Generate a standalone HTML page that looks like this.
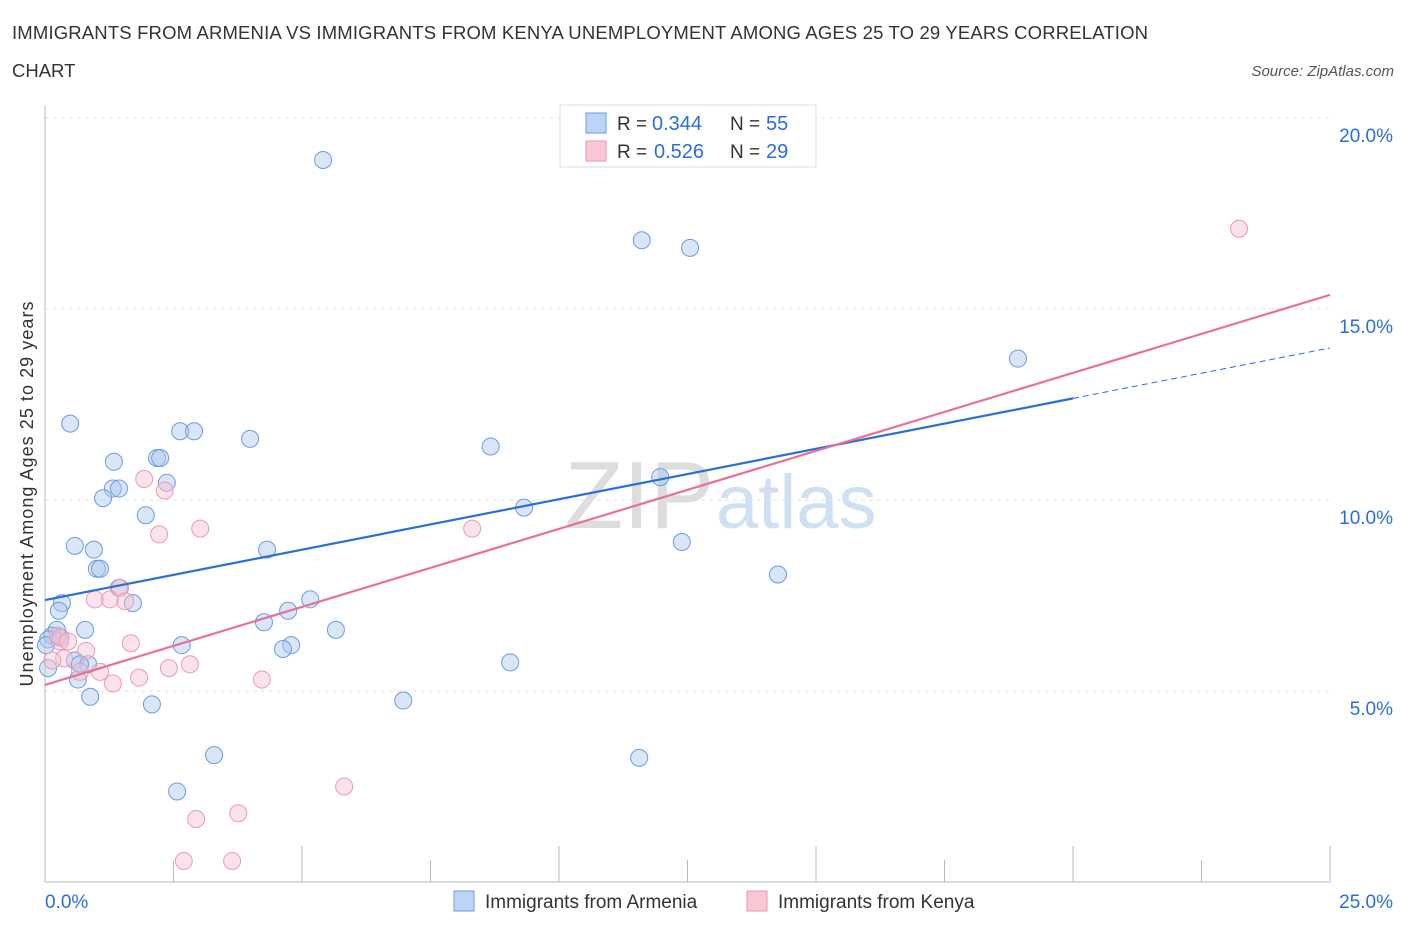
<!DOCTYPE html>
<html><head><meta charset="utf-8"><style>
body{margin:0;background:#fff;font-family:"Liberation Sans",sans-serif;}
svg text{font-family:"Liberation Sans",sans-serif;}
</style></head><body>
<svg id="chart" width="1406" height="930">
<text x="12" y="39" font-size="18.5" fill="#333" textLength="1136">IMMIGRANTS FROM ARMENIA VS IMMIGRANTS FROM KENYA UNEMPLOYMENT AMONG AGES 25 TO 29 YEARS CORRELATION</text>
<text x="12" y="77" font-size="18.5" fill="#333">CHART</text>
<text x="1394" y="76" font-size="15" fill="#555" font-style="italic" text-anchor="end">Source: ZipAtlas.com</text>
<text x="714" y="528" font-size="96" fill="#ddd" font-family="Liberation Serif" text-anchor="end">ZIP</text>
<text x="716" y="528" font-size="76" fill="#cfe0f3">atlas</text>
<g id="grid"></g>
<g id="axes"></g>
<g id="pts"></g>
<g id="lines"></g>
<text transform="translate(33,494) rotate(-90)" font-size="18" fill="#333" text-anchor="middle" textLength="385">Unemployment Among Ages 25 to 29 years</text>
<g>
<rect x="560" y="105" width="256" height="62" fill="#fff" stroke="#ddd"/>
<rect x="586" y="113" width="20" height="20" fill="#bcd4f5" stroke="#6a9be0"/>
<rect x="586" y="141" width="20" height="20" fill="#f9c7d5" stroke="#e899b0"/>
<text x="617" y="130" font-size="19" fill="#333">R =</text><text x="652" y="130" font-size="20" fill="#2a6fd6">0.344</text>
<text x="730" y="130" font-size="19" fill="#333">N =</text><text x="766" y="130" font-size="20" fill="#2a6fd6">55</text>
<text x="617" y="158" font-size="19" fill="#333">R =</text><text x="654" y="158" font-size="20" fill="#2a6fd6">0.526</text>
<text x="730" y="158" font-size="19" fill="#333">N =</text><text x="766" y="158" font-size="20" fill="#2a6fd6">29</text>
</g>
<g>
<rect x="454" y="891" width="20" height="20" fill="#bcd4f5" stroke="#6a9be0"/>
<text x="485" y="908" font-size="19" fill="#333">Immigrants from Armenia</text>
<rect x="747" y="891" width="20" height="20" fill="#f9c7d5" stroke="#e899b0"/>
<text x="778" y="908" font-size="19" fill="#333">Immigrants from Kenya</text>
</g>
</svg>
<script>
const xTicks=[0,2.5,5,7.5,10,12.5,15,17.5,20,22.5,25];
const yTicks=[5,10,15,20];
const yTickLabels=["5.0%","10.0%","15.0%","20.0%"];
const armeniaX=[5.41,11.61,12.55,18.93,0.49,8.67,2.63,2.9,3.99,1.34,2.18,2.24,2.37,1.32,1.44,1.13,1.96,9.32,11.97,0.58,0.95,4.32,12.39,1.01,1.07,14.26,1.44,1.71,0.33,0.27,5.16,4.73,4.26,0.78,0.23,0.14,0.06,0.06,2.66,4.79,4.63,5.66,0.58,0.84,0.68,0.64,0.88,2.08,6.97,9.05,3.29,11.56,2.57,0.02,0.3];
const armeniaY=[18.9,16.8,16.6,13.7,12.0,11.4,11.8,11.8,11.6,11.0,11.1,11.1,10.45,10.3,10.3,10.05,9.6,9.8,10.6,8.8,8.7,8.7,8.9,8.2,8.2,8.05,7.7,7.3,7.3,7.1,7.4,7.1,6.8,6.6,6.6,6.45,6.35,5.6,6.2,6.2,6.1,6.6,5.8,5.7,5.7,5.3,4.85,4.65,4.75,5.75,3.32,3.25,2.37,6.2,6.4];
const kenyaX=[23.23,1.93,2.33,2.22,3.02,8.31,1.46,0.97,1.56,1.26,1.67,0.29,0.25,0.45,0.8,0.37,0.14,1.07,1.32,1.83,2.41,2.82,4.22,5.82,3.76,2.94,2.7,3.64,0.68];
const kenyaY=[17.1,10.55,10.25,9.1,9.25,9.25,7.7,7.4,7.35,7.4,6.25,6.3,6.45,6.3,6.05,5.85,5.8,5.5,5.2,5.35,5.6,5.7,5.3,2.5,1.8,1.65,0.55,0.55,5.5];
const blueLine=[7.38,13.98];
const pinkLine=[5.16,15.37];
const X=v=>45+v/25*1285, Y=v=>882-v/5*191;
const NS="http://www.w3.org/2000/svg";
function mk(tag,at,parent){const e=document.createElementNS(NS,tag);for(const k in at)e.setAttribute(k,at[k]);document.getElementById(parent).appendChild(e);return e;}
yTicks.forEach((t,i)=>{
 const g=mk('line',{x1:45,x2:1330,y1:Y(t),y2:Y(t),stroke:'#e2e2e2','stroke-dasharray':'4,4'},'grid');
 
 
 const tx=mk('text',{x:1393,y:Y(t)+24,'font-size':19,fill:'#2a6fd6','text-anchor':'end'},'axes');tx.textContent=yTickLabels[i];
 
 
});
const ax=mk('line',{x1:45,x2:1330,y1:882,y2:882,stroke:'#bbb'},'axes');


const ay=mk('line',{x1:45,x2:45,y1:105,y2:882,stroke:'#bbb'},'axes');


xTicks.forEach(t=>{const l=mk('line',{x1:X(t),x2:X(t),y1:882,y2:t%5==0&&t>0?846:860,stroke:'#bbb'},'axes');
 
 });
[["0.0%",45,"start"],["25.0%",1393,"end"]].forEach(a=>{const t=mk('text',{x:a[1],y:908,'font-size':19,fill:'#2a6fd6','text-anchor':a[2]},'axes');t.textContent=a[0];
 
 });
armeniaX.forEach((x,i)=>{const c=mk('circle',{cx:X(x),cy:Y(armeniaY[i]),r:8.5,fill:'rgba(170,200,240,0.45)',stroke:'#6b9ddf','stroke-width':1},'pts');
 
 });
kenyaX.forEach((x,i)=>{const c=mk('circle',{cx:X(x),cy:Y(kenyaY[i]),r:8.5,fill:'rgba(248,190,208,0.45)',stroke:'#eb9bb4','stroke-width':1},'pts');
 
 });
const bAt=x=>blueLine[0]+(blueLine[1]-blueLine[0])*x/25, pAt=x=>pinkLine[0]+(pinkLine[1]-pinkLine[0])*x/25;
const b1=mk('line',{x1:X(0),y1:Y(bAt(0)),x2:X(20),y2:Y(bAt(20)),stroke:'#2a6fd6','stroke-width':2.2},'lines');


const b2=mk('line',{x1:X(20),y1:Y(bAt(20)),x2:X(25),y2:Y(bAt(25)),stroke:'#2a6fd6','stroke-width':1,'stroke-dasharray':'6,4'},'lines');


const p1=mk('line',{x1:X(0),y1:Y(pAt(0)),x2:X(25),y2:Y(pAt(25)),stroke:'#e8709a','stroke-width':2.2},'lines');


</script>
</body></html>
